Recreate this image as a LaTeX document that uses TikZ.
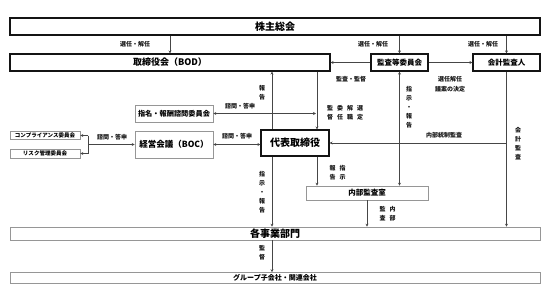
\documentclass[tikz,border=0pt]{standalone}
\usepackage{fontspec}
\setmainfont{Noto Sans CJK JP}
\usetikzlibrary{arrows.meta, positioning}
\definecolor{govDark}{RGB}{20,20,20}
\definecolor{govLine}{RGB}{70,70,70}
\definecolor{govGray}{RGB}{150,150,150}

\begin{document}
\begin{tikzpicture}[x=1pt, y=-1pt,
mainblock/.style={rectangle, draw=govDark, line width=1.1pt,
fill=white, inner sep=0pt, align=center,
font=\bfseries\fontsize{9}{10}\selectfont},
subblock/.style={rectangle, draw=govGray, line width=0.6pt,
fill=white, inner sep=0pt, align=center,
font=\bfseries\fontsize{7.5}{8}\selectfont},
lbl/.style={inner sep=0pt, align=center, text=govDark,
font=\bfseries\fontsize{6}{9}\selectfont},
arrow/.style={-{Stealth[length=3pt, width=3pt]}, line width=0.6pt, color=govLine},
dblarrow/.style={{Stealth[length=3pt, width=3pt]}-{Stealth[length=3pt, width=3pt]},
line width=0.6pt, color=govLine}]

\useasboundingbox (0,0) rectangle (554,293);

\node[mainblock, minimum width=530pt, minimum height=17pt,
    font=\bfseries\fontsize{10}{11}\selectfont] (shareholders) at (275,26.5)
    {株主総会};
\node[mainblock, minimum width=320pt, minimum height=17pt] (bod) at (170,62.5)
    {取締役会（BOD）};
\node[mainblock, minimum width=57pt, minimum height=17pt,
    font=\bfseries\fontsize{7.5}{8}\selectfont] (auditcom) at (399.5,62.5)
    {監査等委員会};
\node[mainblock, minimum width=67pt, minimum height=17pt,
    font=\bfseries\fontsize{7.5}{8}\selectfont] (accaud) at (506.5,62.5)
    {会計監査人};
\node[subblock, minimum width=78pt, minimum height=17pt,
    font=\bfseries\fontsize{7.2}{8}\selectfont] (nomcom) at (174,113.5)
    {指名・報酬諮問委員会};
\node[subblock, minimum width=78pt, minimum height=27pt,
    font=\bfseries\fontsize{8.5}{10}\selectfont] (boc) at (174,144.5)
    {経営会議（BOC）};
\node[subblock, minimum width=70pt, minimum height=8pt,
    font=\bfseries\fontsize{5.5}{6}\selectfont] (compcom) at (45,135.5)
    {コンプライアンス委員会};
\node[subblock, minimum width=70pt, minimum height=9pt,
    font=\bfseries\fontsize{5.5}{6}\selectfont] (riskcom) at (45,153.5)
    {リスク管理委員会};
\node[mainblock, minimum width=68pt, minimum height=26pt,
    font=\bfseries\fontsize{10}{11}\selectfont] (ceo) at (295,143)
    {代表取締役};
\node[subblock, minimum width=122pt, minimum height=14pt] (intaudit) at (367,193)
    {内部監査室};
\node[subblock, minimum width=530pt, minimum height=13pt,
    font=\bfseries\fontsize{10}{11}\selectfont] (divisions) at (275,233.5)
    {各事業部門};
\node[subblock, minimum width=530pt, minimum height=11pt,
    font=\bfseries\fontsize{7}{8}\selectfont] (group) at (275,278)
    {グループ子会社・関連会社};

\coordinate (colA) at (272,0);
\coordinate (colB) at (317,0);
\coordinate (brk) at (88,144.5);

\draw[arrow] (shareholders.south -| bod.north) -- (bod.north);
\draw[arrow] (shareholders.south -| auditcom.north) -- (auditcom.north);
\draw[arrow] (shareholders.south -| accaud.north) -- (accaud.north);
\draw[arrow] (auditcom.west) -- (bod.east);
\draw[arrow] (auditcom.east) -- (accaud.west);
\draw[arrow] (ceo.north -| colA) -- (bod.south -| colA);
\draw[arrow] (bod.south -| colB) -- (ceo.north -| colB);
\draw[dblarrow, shorten >=1pt] (nomcom.east) -- (colB |- nomcom.east);
\draw[dblarrow] (boc.east) -- (ceo.west |- boc.east);
\draw[color=govLine, line width=0.6pt] (brk |- compcom.east) -- (brk |- riskcom.east);
\draw[arrow] (brk |- compcom.east) -- (compcom.east);
\draw[arrow] (brk |- riskcom.east) -- (riskcom.east);
\draw[arrow] (brk) -- (boc.west);
\draw[dblarrow] (auditcom.south) -- (intaudit.north -| auditcom.south);
\draw[arrow] (accaud.south) -- (divisions.north -| accaud.south);
\draw[arrow] (accaud.south |- ceo.east) -- (ceo.east);
\draw[arrow] (ceo.south -| colA) -- (divisions.north -| colA);
\draw[arrow] (ceo.south -| colB) -- (intaudit.north -| colB);
\draw[arrow] (intaudit.south) -- (divisions.north -| intaudit.south);
\draw[arrow] (divisions.south -| colA) -- (group.north -| colA);

\node[lbl] (l1) at (135,44) {選任・解任};
\node[lbl] (l2) at (373,44) {選任・解任};
\node[lbl] (l3) at (483,44) {選任・解任};
\node[lbl] (l4) at (351,79) {監査・監督};
\node[lbl, font=\bfseries\fontsize{6}{10}\selectfont] (l5) at (450,84) {選任解任\\議案の決定};
\node[lbl] (l6) at (262,93) {報\\告};
\node[lbl] (l7) at (345,112.5)
    {監\hspace{4pt}委\hspace{4pt}解\hspace{4pt}選\\督\hspace{4pt}任\hspace{4pt}職\hspace{4pt}定};
\node[lbl] (l8) at (240,106) {諮問・答申};
\node[lbl] (l9) at (237,136) {諮問・答申};
\node[lbl] (l10) at (112,137) {諮問・答申};
\node[lbl] (l11) at (409,107) {指\\示\\・\\報\\告};
\node[lbl] (l12) at (444,135) {内部統制監査};
\node[lbl] (l13) at (518,144) {会\\計\\監\\査};
\node[lbl] (l14) at (262,192) {指\\示\\・\\報\\告};
\node[lbl] (l15) at (337.5,173) {報\hspace{4pt}指\\告\hspace{4pt}示};
\node[lbl] (l16) at (387.5,213.5) {監\hspace{4pt}内\\査\hspace{4pt}部};
\node[lbl] (l17) at (262,253) {監\\督};
\end{tikzpicture}
\end{document}
